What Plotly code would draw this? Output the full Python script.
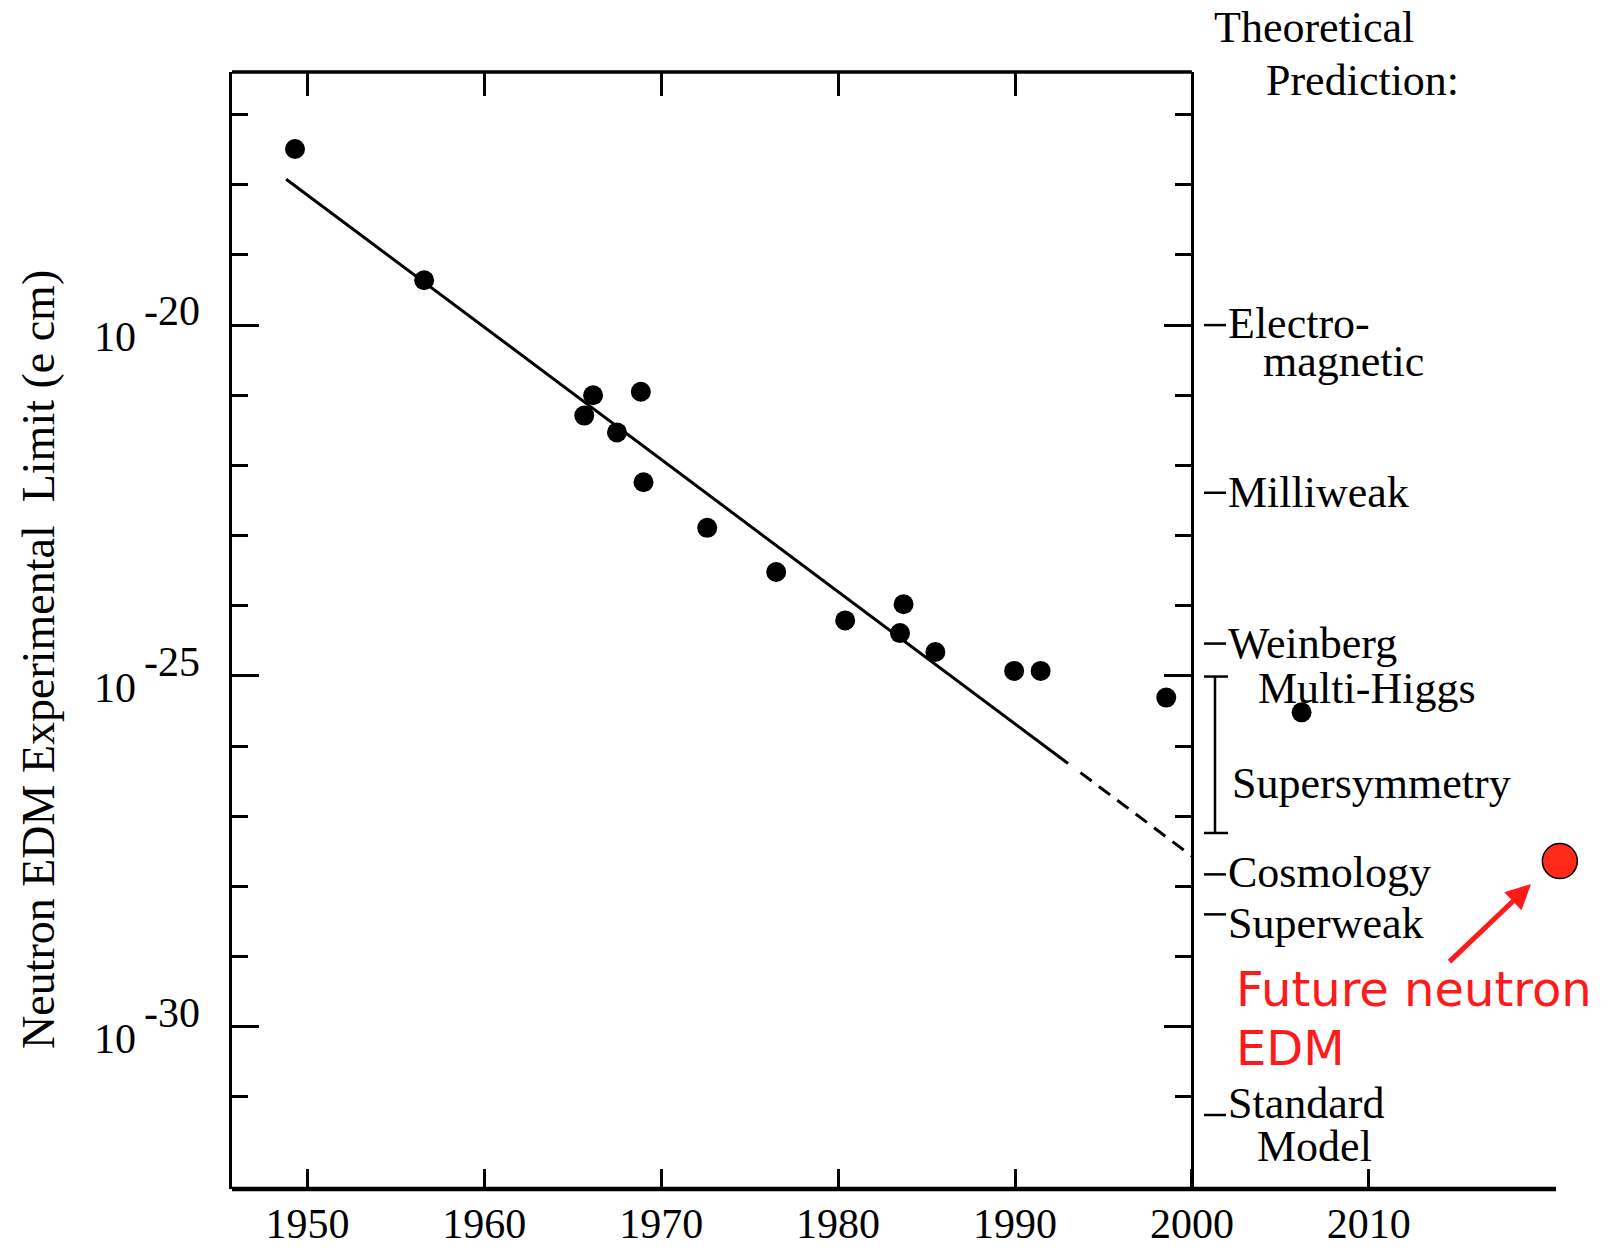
import plotly.graph_objects as go

# ---------------- data ----------------
years = [1949.3, 1956.6, 1965.65, 1966.15, 1967.5, 1968.85, 1969.0, 1972.6,
         1976.5, 1980.4, 1983.5, 1983.7, 1985.5, 1989.95, 1991.45, 1998.55, 2006.2]
log_limits = [-17.49, -19.36, -21.29, -21.00, -21.53, -20.95, -22.24, -22.89,
              -23.52, -24.21, -24.39, -23.98, -24.66, -24.93, -24.93, -25.31, -25.52]

fit_years = [1948.8, 1993.0]
fit_logs = [-17.92, -26.25]
extrap_years = [1993.7, 2000.0]
extrap_logs = [-26.38, -27.57]

future_year = [2020.8]
future_log = [-27.64]

pred_names = ["Electro-", "Milliweak", "Weinberg", "Cosmology", "Superweak", "Standard"]
pred_logs = [-20.0, -22.39, -24.54, -27.83, -28.40, -31.26]
susy_logs = [-25.01, -27.24]

x_tick_years = [1950, 1960, 1970, 1980, 1990, 2000, 2010]
top_tick_years = [1950, 1960, 1970, 1980, 1990]
y_major_exp = [-20, -25, -30]
y_minor_exp = list(range(-17, -32, -1))

# ---------------- geometry helpers (page pixels) ----------------
W, H = 1614, 1251
L, R, T, B = 232, 1600, 72, 1189
PX_PER_YEAR = 17.69
PX_1980 = 838.1
X0 = 1980 + (L - PX_1980) / PX_PER_YEAR
X1 = 1980 + (R - PX_1980) / PX_PER_YEAR
Y0, Y1 = -32.315, -16.392
AXIS_END_PX = 1556


def fx(p):
    return (p - L) / (R - L)


def fy(p):
    return (B - p) / (B - T)


def yr_at(p):
    return X0 + fx(p) * (X1 - X0)


def lg_at(p):
    return Y0 + fy(p) * (Y1 - Y0)


def py_of(v):
    return B - (v - Y0) / (Y1 - Y0) * (B - T)


def pw(v):
    return 10.0 ** v


SERIF = "Liberation Serif, Times New Roman, serif"
RED = "#ff1a1a"

fig = go.Figure()

# fit line (solid) and extrapolation (dashed)
fig.add_trace(go.Scatter(x=fit_years, y=[pw(v) for v in fit_logs], mode="lines",
                         line=dict(color="black", width=3), hoverinfo="skip"))
fig.add_trace(go.Scatter(x=extrap_years, y=[pw(v) for v in extrap_logs], mode="lines",
                         line=dict(color="black", width=3, dash="14px,9px"), hoverinfo="skip"))

# measured limits
fig.add_trace(go.Scatter(x=years, y=[pw(v) for v in log_limits], mode="markers",
                         marker=dict(size=20, color="black"), cliponaxis=False))

# future neutron EDM
fig.add_trace(go.Scatter(x=future_year, y=[pw(v) for v in future_log], mode="markers",
                         marker=dict(size=35, color="#ff2a1a", line=dict(color="black", width=1.5)),
                         cliponaxis=False))

# prediction dashes
dx, dy = [], []
for v in pred_logs:
    dx += [yr_at(1204), yr_at(1226), None]
    dy += [pw(v), pw(v), None]
fig.add_trace(go.Scatter(x=dx, y=dy, mode="lines", line=dict(color="black", width=2.5),
                         cliponaxis=False, hoverinfo="skip"))

# supersymmetry bracket
bx = yr_at(1215)
c0, c1 = yr_at(1204), yr_at(1228)
fig.add_trace(go.Scatter(
    x=[bx, bx, None, c0, c1, None, c0, c1],
    y=[pw(susy_logs[0]), pw(susy_logs[1]), None,
       pw(susy_logs[0]), pw(susy_logs[0]), None,
       pw(susy_logs[1]), pw(susy_logs[1])],
    mode="lines", line=dict(color="black", width=2.5), cliponaxis=False, hoverinfo="skip"))

# dummy traces for the extra axes
fig.add_trace(go.Scatter(x=[None], y=[None], xaxis="x2", yaxis="y", showlegend=False))
fig.add_trace(go.Scatter(x=[None], y=[None], xaxis="x", yaxis="y2", showlegend=False))

ymajor_vals = [pw(v) for v in y_major_exp]
yminor_vals = [pw(v) for v in y_minor_exp]

yaxis_common = dict(
    type="log", range=[Y0, Y1], tickmode="array", tickvals=ymajor_vals,
    ticks="inside", ticklen=27, tickwidth=3, tickcolor="black",
    showticklabels=False, showline=True, linewidth=3, linecolor="black",
    showgrid=False, zeroline=False, automargin=False,
    minor=dict(tickmode="array", tickvals=yminor_vals, ticks="inside",
               ticklen=16, tickwidth=3, tickcolor="black", showgrid=False),
)

fig.update_layout(
    width=W, height=H,
    margin=dict(l=L, r=W - R, t=T, b=H - B, pad=0, autoexpand=False),
    paper_bgcolor="white", plot_bgcolor="white",
    showlegend=False,
    xaxis=dict(range=[X0, X1], tickmode="array", tickvals=x_tick_years,
               ticktext=[str(y) for y in x_tick_years],
               ticks="inside", ticklen=20, tickwidth=3, tickcolor="black",
               showline=False, showgrid=False, zeroline=False,
               ticklabelstandoff=6, automargin=False,
               tickfont=dict(family=SERIF, size=42, color="black")),
    xaxis2=dict(overlaying="x", anchor="y", side="top", range=[X0, X1],
                tickmode="array", tickvals=top_tick_years, ticks="inside",
                ticklen=24, tickwidth=3, tickcolor="black", showticklabels=False,
                showline=False, showgrid=False, zeroline=False, automargin=False),
    yaxis=yaxis_common,
    yaxis2=dict(yaxis_common, overlaying="y", anchor="free",
                position=(2000 - X0) / (X1 - X0), side="right"),
)

# top border up to 2000, bottom axis line up to its end
fig.add_shape(type="line", xref="x", yref="paper", x0=X0, x1=2000, y0=1, y1=1,
              line=dict(color="black", width=3.5))
fig.add_shape(type="line", xref="x", yref="paper", x0=X0, x1=yr_at(AXIS_END_PX), y0=0, y1=0,
              line=dict(color="black", width=4.5))

ann = []


def text(t, left_px, center_py, size=44, color="black", family=SERIF, anchor="left"):
    ann.append(dict(text=t, x=fx(left_px), y=fy(center_py), xref="paper", yref="paper",
                    xanchor=anchor, yanchor="middle", showarrow=False,
                    font=dict(family=family, size=size, color=color)))


# y tick labels
for e in y_major_exp:
    ann.append(dict(text="10", x=0, y=e, xref="paper", yref="y", xanchor="right",
                    yanchor="middle", xshift=138 - L, yshift=-12, showarrow=False,
                    font=dict(family=SERIF, size=42, color="black")))
    ann.append(dict(text="%d" % e, x=0, y=e, xref="paper", yref="y", xanchor="left",
                    yanchor="middle", xshift=142 - L, yshift=14, showarrow=False,
                    font=dict(family=SERIF, size=42, color="black")))

# y axis title
ann.append(dict(text="Neutron EDM Experimental  Limit (e cm)", x=fx(39), y=fy(660),
                xref="paper", yref="paper", xanchor="center", yanchor="middle",
                textangle=-90, showarrow=False,
                font=dict(family=SERIF, size=46, color="black")))

# header
text("Theoretical", 1212, 28)
text("Prediction:", 1264, 80)

# prediction labels
label_offsets = [-2, 0, 0, -2, 9, -11]
for name, v, off in zip(pred_names, pred_logs, label_offsets):
    text(name, 1226, py_of(v) + off)
text("magnetic", 1261, 362)
text("Model", 1255, 1146)
text("Multi-Higgs", 1256, 688)
text("Supersymmetry", 1230, 783)

# red annotation
text("Future neutron", 1234, 989, size=48, color=RED, family="DejaVu Sans, sans-serif")
text("EDM", 1234, 1048, size=48, color=RED, family="DejaVu Sans, sans-serif")
ann.append(dict(text="", x=yr_at(1531), y=lg_at(884), xref="x", yref="y",
                ax=yr_at(1448), ay=lg_at(963), axref="x", ayref="y",
                showarrow=True, arrowhead=2, arrowsize=1, arrowwidth=5,
                arrowcolor=RED, standoff=0))

fig.update_layout(annotations=ann)
fig.write_html("out.html", config={"displayModeBar": False},
               post_script="document.body.style.margin='0px';")
